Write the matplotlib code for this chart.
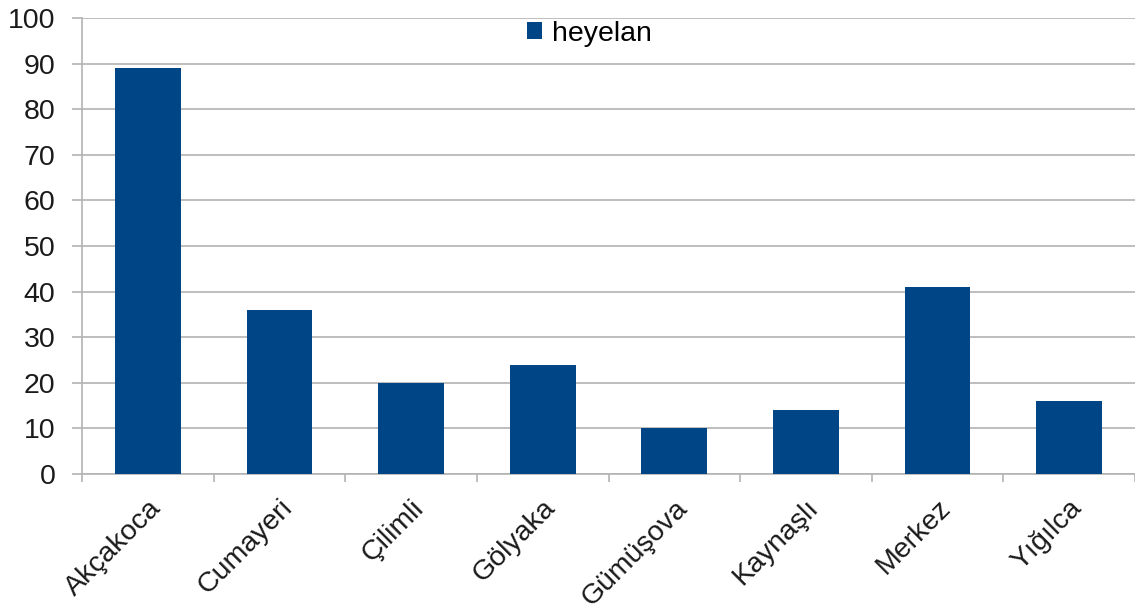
import matplotlib
matplotlib.use("Agg")
import matplotlib.pyplot as plt
import numpy as np

categories = ["Akçakoca", "Cumayeri", "Çilimli", "Gölyaka", "Gümüşova", "Kaynaşlı", "Merkez", "Yığılca"]
heyelan = [89, 36, 20, 24, 10, 14, 41, 16]
yticks = list(range(0, 101, 10))

plt.rcParams['font.family'] = ['Liberation Sans', 'DejaVu Sans']

fig = plt.figure(figsize=(11.35, 6.10), dpi=100)
ax = fig.add_axes([82/1135, 1-474/610, 1-82/1135, 456/610])

x = np.arange(len(categories))
ax.bar(x, heyelan, width=0.5, color="#004586", label="heyelan", zorder=3)

ax.set_xlim(-0.5, len(categories) - 0.5)
ax.set_ylim(0, 100)
ax.set_yticks(yticks)
ax.set_yticklabels([str(v) for v in yticks], fontsize=20.5, color="#1a1a1a")
ax.yaxis.grid(True, color="#b3b3b3", linewidth=1.2, zorder=0)

ax.set_xticks(np.arange(len(categories) + 1) - 0.5, minor=False)
ax.set_xticklabels([])
ax.set_xticks(x, minor=True)
ax.set_xticklabels(categories, minor=True, rotation=45, ha="right", va="top",
                   rotation_mode="anchor", fontsize=20.5, color="#1a1a1a")
ax.tick_params(axis="x", which="minor", length=0, pad=15)
ax.tick_params(axis="x", which="major", length=6, color="#b3b3b3", width=1.2)
ax.tick_params(axis="y", length=7.2, color="#b3b3b3", width=1.2, pad=12)

for s in ["top", "right"]:
    ax.spines[s].set_visible(False)
for s in ["left", "bottom"]:
    ax.spines[s].set_color("#b3b3b3")
    ax.spines[s].set_linewidth(1.2)

leg = ax.legend(loc="center", bbox_to_anchor=(0.482, 0.965), frameon=False,
                fontsize=20.5, handlelength=0.55, handleheight=0.55, handletextpad=0.35)

fig.savefig("out.png", dpi=100)
